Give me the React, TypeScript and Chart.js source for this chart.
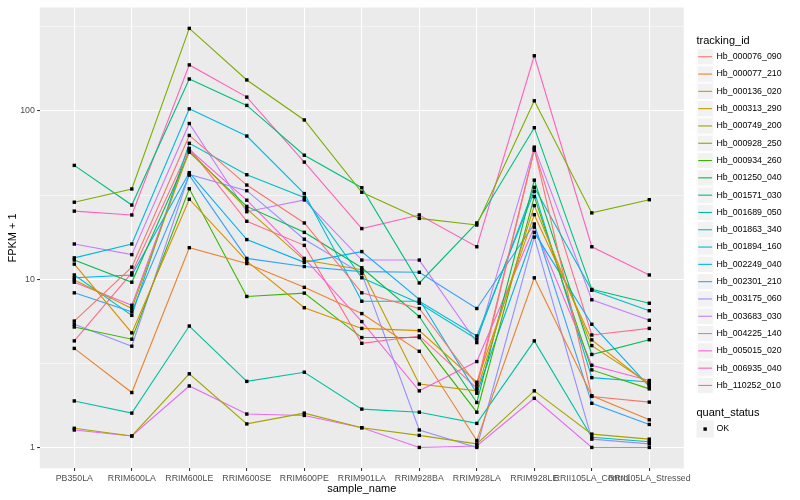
import React, { useEffect, useRef } from "react";
import { Chart, registerables } from "chart.js";

Chart.register(...registerables);

const FONT = '"Liberation Sans", Arial, Helvetica, sans-serif';

const categories = [
  "PB350LA", "RRIM600LA", "RRIM600LE", "RRIM600SE", "RRIM600PE", "RRIM901LA",
  "RRIM928BA", "RRIM928LA", "RRIM928LE", "RRII105LA_Control", "RRII105LA_Stressed",
];

const trackingIds = [
  "Hb_000076_090", "Hb_000077_210", "Hb_000136_020", "Hb_000313_290", "Hb_000749_200",
  "Hb_000928_250", "Hb_000934_260", "Hb_001250_040", "Hb_001571_030", "Hb_001689_050",
  "Hb_001863_340", "Hb_001894_160", "Hb_002249_040", "Hb_002301_210", "Hb_003175_060",
  "Hb_003683_030", "Hb_004225_140", "Hb_005015_020", "Hb_006935_040", "Hb_110252_010",
];

const colors = [
  "#F8766D", "#EA8331", "#D89000", "#C09B00", "#A3A500", "#7CAE00", "#39B600", "#00BB4E",
  "#00BF7D", "#00C1A3", "#00BFC4", "#00BAE0", "#00B0F6", "#35A2FF", "#9590FF", "#C77CFF",
  "#E76BF3", "#FA62DB", "#FF62BC", "#FF6C91",
];

// FPKM + 1 per sample, in category order
const hb_000076_090 = [5.64, 11.8, 71.6, 36.3, 21.6, 8.3, 6.7, 2.35, 59.5, 2.01, 1.86];
const hb_000077_210 = [3.88, 2.12, 15.4, 12.4, 8.95, 6.25, 3.73, 1.1, 10.2, 2.03, 1.46];
const hb_000136_020 = [12.3, 4.8, 29.9, 12.8, 6.77, 5.1, 4.95, 2.44, 24.2, 4.36, 2.35];
const hb_000313_290 = [9.9, 6.7, 58, 26.2, 13.0, 11.4, 2.38, 2.17, 27.4, 4.03, 2.4];
const hb_000749_200 = [1.3, 1.17, 2.74, 1.38, 1.6, 1.31, 1.18, 1.05, 2.17, 1.2, 1.12];
const hb_000928_250 = [28.7, 34.4, 310, 153, 88.5, 32.9, 23.0, 21.0, 115, 24.8, 29.7];
const hb_000934_260 = [5.2, 4.4, 34.5, 7.9, 8.27, 4.5, 4.5, 1.62, 31, 2.89, 2.23];
const hb_001250_040 = [13.0, 9.6, 57, 27.1, 19.0, 11.7, 6.0, 1.85, 38.8, 3.57, 4.37];
const hb_001571_030 = [47.5, 27.6, 155, 108, 54.6, 35, 9.5, 21.6, 79.6, 8.7, 7.2];
const hb_001689_050 = [1.89, 1.6, 5.27, 2.47, 2.8, 1.69, 1.62, 1.39, 4.3, 1.15, 1.08];
const hb_001863_340 = [10.6, 6.1, 64.3, 41.8, 30.6, 10.2, 7.2, 4.4, 35.2, 8.6, 6.5];
const hb_001894_160 = [13.4, 16.2, 103, 71, 32.3, 7.4, 7.4, 4.6, 33.3, 2.6, 2.45];
const hb_002249_040 = [10.2, 10.6, 43, 17.2, 12.6, 14.6, 7.6, 2.1, 19, 5.4, 2.3];
const hb_002301_210 = [8.3, 6.4, 41.6, 13.3, 11.9, 11.1, 11.0, 6.7, 21.3, 1.83, 1.37];
const hb_003175_060 = [5.4, 4.0, 42, 33.6, 17.3, 10.8, 1.27, 1.0, 17.8, 1.12, 1.05];
const hb_003683_030 = [16.2, 14.0, 84.3, 25.2, 29.6, 13.0, 13.0, 4.2, 61, 7.55, 5.7];
const hb_004225_140 = [1.27, 1.17, 2.32, 1.58, 1.55, 1.31, 1.0, 1.02, 1.96, 1.0, 1.0];
const hb_005015_020 = [9.6, 7.0, 59, 29.5, 13.3, 5.6, 2.17, 3.24, 20.4, 3.08, 2.5];
const hb_006935_040 = [25.4, 24.1, 188, 121, 49.7, 20.0, 24.1, 15.6, 213, 15.6, 10.6];
const hb_110252_010 = [4.3, 10.9, 60, 22.1, 15.9, 4.16, 4.6, 2.25, 58.5, 4.66, 5.1];

const seriesValues = [
  hb_000076_090, hb_000077_210, hb_000136_020, hb_000313_290, hb_000749_200,
  hb_000928_250, hb_000934_260, hb_001250_040, hb_001571_030, hb_001689_050,
  hb_001863_340, hb_001894_160, hb_002249_040, hb_002301_210, hb_003175_060,
  hb_003683_030, hb_004225_140, hb_005015_020, hb_006935_040, hb_110252_010,
];

const yMajorTicks = [1, 10, 100];
const yTickLabels = ["1", "10", "100"];
const yMinorTicks = [Math.sqrt(10), Math.sqrt(1000), Math.sqrt(100000)];
const quantStatus = ["OK"];

const isMajor = (v: number) => yMajorTicks.some((m) => Math.abs(m - v) < 1e-6);

const panelBg = {
  id: "panelBg",
  beforeDraw(chart: any) {
    const { ctx, chartArea: a } = chart;
    ctx.save();
    ctx.fillStyle = "#FFFFFF";
    ctx.fillRect(0, 0, chart.width, chart.height);
    ctx.fillStyle = "#EBEBEB";
    ctx.fillRect(a.left, a.top, a.right - a.left, a.bottom - a.top);
    ctx.restore();
  },
};

const pointsOnTop = {
  id: "pointsOnTop",
  afterDatasetsDraw(chart: any) {
    const { ctx, chartArea: a } = chart;
    ctx.save();
    ctx.beginPath();
    ctx.rect(a.left, a.top, a.right - a.left, a.bottom - a.top);
    ctx.clip();
    ctx.fillStyle = "#000000";
    const s = 3.4;
    chart.data.datasets.forEach((_: any, di: number) => {
      const meta = chart.getDatasetMeta(di);
      meta.data.forEach((el: any) => {
        ctx.fillRect(el.x - s / 2, el.y - s / 2, s, s);
      });
    });
    ctx.restore();
  },
};

const annotations = {
  id: "annotations",
  afterDraw(chart: any) {
    const { ctx, chartArea: a } = chart;
    ctx.save();
    // axis titles
    ctx.fillStyle = "#000000";
    ctx.font = `11px ${FONT}`;
    ctx.textAlign = "center";
    ctx.textBaseline = "middle";
    ctx.fillText("sample_name", (a.left + a.right) / 2, 488.5);
    ctx.save();
    ctx.translate(12.5, (a.top + a.bottom) / 2);
    ctx.rotate(-Math.PI / 2);
    ctx.fillText("FPKM + 1", 0, 0);
    ctx.restore();

    // legend: tracking_id
    const keyX = 696.5;
    const keyW = 17.3;
    const firstTop = 48.1;
    ctx.textAlign = "left";
    ctx.font = `11px ${FONT}`;
    ctx.fillText("tracking_id", keyX, 40.5);
    trackingIds.forEach((id, i) => {
      const top = firstTop + i * keyW;
      ctx.fillStyle = "#F2F2F2";
      ctx.fillRect(keyX, top, keyW, keyW);
      ctx.strokeStyle = "#FFFFFF";
      ctx.lineWidth = 1;
      ctx.strokeRect(keyX + 0.5, top + 0.5, keyW - 1, keyW - 1);
      ctx.strokeStyle = colors[i];
      ctx.lineWidth = 1.1;
      ctx.beginPath();
      ctx.moveTo(keyX + keyW * 0.1, top + keyW / 2);
      ctx.lineTo(keyX + keyW * 0.9, top + keyW / 2);
      ctx.stroke();
      ctx.fillStyle = "#000000";
      ctx.font = `8.8px ${FONT}`;
      ctx.fillText(id, 716.5, top + keyW / 2);
    });

    // legend: quant_status
    ctx.font = `11px ${FONT}`;
    ctx.fillStyle = "#000000";
    ctx.fillText("quant_status", keyX, 412.5);
    quantStatus.forEach((q, i) => {
      const top = 420.4 + i * keyW;
      ctx.fillStyle = "#F2F2F2";
      ctx.fillRect(keyX, top, keyW, keyW);
      ctx.fillStyle = "#000000";
      ctx.fillRect(keyX + keyW / 2 - 1.7, top + keyW / 2 - 1.7, 3.4, 3.4);
      ctx.font = `8.8px ${FONT}`;
      ctx.fillText(q, 716.5, top + keyW / 2);
    });
    ctx.restore();
  },
};

export default function App() {
  const canvasRef = useRef<HTMLCanvasElement | null>(null);

  useEffect(() => {
    if (!canvasRef.current) return;
    const datasets = seriesValues.map((vals, si) => ({
      label: trackingIds[si],
      data: vals.map((v, i) => ({ x: i, y: v })),
      borderColor: colors[si],
      backgroundColor: colors[si],
      borderWidth: 1.1,
      pointRadius: 0,
      pointHoverRadius: 0,
      tension: 0,
      fill: false,
    }));

    const chart = new Chart(canvasRef.current, {
      type: "line",
      data: { datasets },
      plugins: [panelBg, pointsOnTop, annotations],
      options: {
        animation: false,
        responsive: false,
        maintainAspectRatio: false,
        devicePixelRatio: 1,
        layout: { padding: { left: 0, top: 5.3, right: 116.2, bottom: 0 } },
        plugins: {
          legend: { display: false },
          tooltip: { enabled: false },
          title: { display: false },
        },
        scales: {
          x: {
            type: "linear",
            min: -0.6,
            max: 10.6,
            afterBuildTicks: (scale: any) => {
              scale.ticks = categories.map((_, i) => ({ value: i }));
            },
            afterFit: (scale: any) => {
              scale.height = 31.6;
            },
            ticks: {
              autoSkip: false,
              maxRotation: 0,
              minRotation: 0,
              color: "#4D4D4D",
              padding: 2.2,
              font: { family: FONT, size: 8.8 },
              callback: (_v: any, index: number) => categories[index] ?? "",
            },
            grid: {
              color: "#FFFFFF",
              lineWidth: 1.07,
              tickColor: "#333333",
              tickLength: 2.7,
              drawTicks: true,
            },
            border: { display: false },
          },
          y: {
            type: "logarithmic",
            min: 0.7506,
            max: 412.6,
            afterBuildTicks: (scale: any) => {
              const all = [...yMajorTicks, ...yMinorTicks].sort((a, b) => a - b);
              scale.ticks = all.map((v) => ({ value: v }));
            },
            afterFit: (scale: any) => {
              scale.width = 39.8;
            },
            ticks: {
              autoSkip: false,
              color: "#4D4D4D",
              padding: 2.2,
              font: { family: FONT, size: 8.8 },
              callback: (v: any) => {
                const idx = yMajorTicks.findIndex((m) => Math.abs(m - Number(v)) < 1e-6);
                return idx >= 0 ? yTickLabels[idx] : "";
              },
            },
            grid: {
              color: "#FFFFFF",
              lineWidth: (ctx: any) => (ctx.tick && isMajor(ctx.tick.value) ? 1.07 : 0.53),
              tickColor: (ctx: any) =>
                ctx.tick && isMajor(ctx.tick.value) ? "#333333" : "rgba(0,0,0,0)",
              tickLength: 2.7,
              drawTicks: true,
            },
            border: { display: false },
          },
        },
      } as any,
    });
    return () => chart.destroy();
  }, []);

  return (
    <div style={{ position: "fixed", left: 0, top: 0, width: 800, height: 500, background: "#FFFFFF" }}>
      <canvas ref={canvasRef} width={800} height={500} style={{ width: 800, height: 500, display: "block" }} />
    </div>
  );
}
